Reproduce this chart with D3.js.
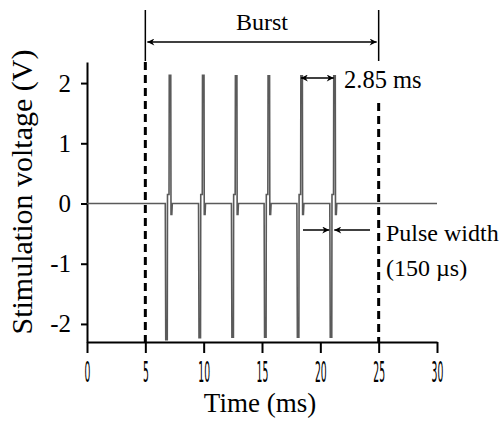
<!DOCTYPE html>
<html>
<head>
<meta charset="utf-8">
<script src="https://cdn.jsdelivr.net/npm/d3@7"></script>
<style>
  body { margin: 0; background: #fff; }
  svg { display: block; }
</style>
</head>
<body>
<svg id="chart"></svg>
<script>
// x axis ticks (ms) and y axis ticks (V)
const xTicks = [0, 5, 10, 15, 20, 25, 30];
const yTicks = [2, 1, 0, -1, -2];

// burst window (ms)
const burstStart = 5;
const burstEnd = 25;

// onset of each cathodic phase (ms)
const pulseOnsets = [6.75, 9.6, 12.42, 15.22, 18.03, 20.85];
// peak amplitudes of each pulse (V)
const negPeaks = [-2.26, -2.23, -2.22, -2.22, -2.22, -2.22];
const posPeaks = [2.13, 2.13, 2.12, 2.12, 2.12, 2.12];

// one biphasic pulse: time offset from onset (ms) and level
// 'neg' / 'pos' take the pulse peak, numbers are volts
const pulseShape = [
  [-0.04, 0], [0, 'neg'], [0.13, 'neg'], [0.15, 0.15], [0.28, 0.15],
  [0.3, 'pos'], [0.43, 'pos'], [0.45, -0.18], [0.52, -0.18], [0.56, 0]
];

const width = 504;
const height = 423;

const svg = d3.select('#chart')
  .attr('width', width)
  .attr('height', height);

const xScale = d3.scaleLinear()
  .domain([0, 30])
  .range([87, 437]);

const yScale = d3.scaleLinear()
  .domain([-2.3, 2.35])
  .range([342, 62]);

// build the recorded trace
let trace = [[0, 0]];
pulseOnsets.forEach((t0, i) => {
  pulseShape.forEach(p => {
    let v = p[1];
    if (v === 'neg') v = negPeaks[i];
    if (v === 'pos') v = posPeaks[i];
    trace.push([t0 + p[0], v]);
  });
});
trace.push([30, 0]);

const serif = 'Liberation Serif, Times New Roman, serif';

// arrow heads
const defs = svg.append('defs');
defs.append('marker')
  .attr('id', 'head')
  .attr('viewBox', '0 0 10 10')
  .attr('refX', 10)
  .attr('refY', 5)
  .attr('markerWidth', 8)
  .attr('markerHeight', 7)
  .attr('markerUnits', 'userSpaceOnUse')
  .attr('orient', 'auto-start-reverse')
  .append('path')
  .attr('d', 'M0,0 L10,5 L0,10 L3,5 Z')
  .attr('fill', '#000');

// axes
const xAxis = svg.append('g')
  .attr('transform', `translate(0,${yScale(-2.3)})`)
  .call(d3.axisBottom(xScale).tickValues(xTicks).tickSize(11).tickSizeOuter(0).tickPadding(8));

xAxis.select('.domain').attr('stroke-width', 2);
xAxis.selectAll('.tick line').attr('stroke-width', 2);
xAxis.selectAll('.tick text')
  .attr('font-family', 'DejaVu Sans, sans-serif')
  .attr('font-size', 29)
  .attr('fill', '#000')
  .attr('transform', 'scale(0.32,1)');

const yAxis = svg.append('g')
  .attr('transform', `translate(${xScale(0)},0)`)
  .call(d3.axisLeft(yScale).tickValues(yTicks).tickSize(6).tickSizeOuter(0).tickPadding(10)
    .tickFormat(d => d));

yAxis.select('.domain').attr('stroke-width', 2);
yAxis.selectAll('.tick line').attr('stroke-width', 2);
yAxis.selectAll('.tick text')
  .attr('font-family', serif)
  .attr('font-size', 25)
  .attr('fill', '#000');

// axis titles
svg.append('text')
  .attr('x', 260)
  .attr('y', 412)
  .attr('text-anchor', 'middle')
  .attr('font-family', serif)
  .attr('font-size', 27)
  .text('Time (ms)');

svg.append('text')
  .attr('transform', 'translate(32,192) rotate(-90)')
  .attr('text-anchor', 'middle')
  .attr('font-family', serif)
  .attr('font-size', 30)
  .text('Stimulation voltage (V)');

// burst limits: dashed inside the plot, solid above it
svg.append('line')
  .attr('x1', xScale(burstStart)).attr('x2', xScale(burstStart))
  .attr('y1', yScale(2.35)).attr('y2', yScale(-2.3))
  .attr('stroke', '#000').attr('stroke-width', 3)
  .attr('stroke-dasharray', '8,5');

svg.append('line')
  .attr('x1', xScale(burstEnd)).attr('x2', xScale(burstEnd))
  .attr('y1', 103).attr('y2', yScale(-2.3))
  .attr('stroke', '#000').attr('stroke-width', 3)
  .attr('stroke-dasharray', '8,5');

[burstStart, burstEnd].forEach(t => {
  svg.append('line')
    .attr('x1', xScale(t)).attr('x2', xScale(t))
    .attr('y1', 10).attr('y2', 61)
    .attr('stroke', '#000').attr('stroke-width', 1.5);
});

// the trace
const line = d3.line()
  .x(d => xScale(d[0]))
  .y(d => yScale(d[1]));

svg.append('path')
  .datum(trace)
  .attr('d', line)
  .attr('fill', 'none')
  .attr('stroke', '#5a5a5a')
  .attr('stroke-width', 1.6);

// Burst arrow
svg.append('line')
  .attr('x1', xScale(burstStart) + 2).attr('x2', xScale(burstEnd) - 2)
  .attr('y1', 42).attr('y2', 42)
  .attr('stroke', '#000').attr('stroke-width', 1.5)
  .attr('marker-start', 'url(#head)')
  .attr('marker-end', 'url(#head)');

svg.append('text')
  .attr('x', (xScale(burstStart) + xScale(burstEnd)) / 2)
  .attr('y', 30)
  .attr('text-anchor', 'middle')
  .attr('font-family', serif)
  .attr('font-size', 24)
  .text('Burst');

// inter-pulse interval arrow between the last two positive peaks
const p5 = xScale(pulseOnsets[4] + 0.3);
const p6 = xScale(pulseOnsets[5] + 0.3);
svg.append('line')
  .attr('x1', p5).attr('x2', p6)
  .attr('y1', 78).attr('y2', 78)
  .attr('stroke', '#000').attr('stroke-width', 1.5)
  .attr('marker-start', 'url(#head)')
  .attr('marker-end', 'url(#head)');

svg.append('text')
  .attr('x', 344)
  .attr('y', 88)
  .attr('font-family', serif)
  .attr('font-size', 24.5)
  .text('2.85 ms');

// pulse width arrows
const pw0 = xScale(pulseOnsets[5]);
svg.append('line')
  .attr('x1', 303).attr('x2', pw0 - 1)
  .attr('y1', 230).attr('y2', 230)
  .attr('stroke', '#000').attr('stroke-width', 1.5)
  .attr('marker-end', 'url(#head)');

svg.append('line')
  .attr('x1', 370).attr('x2', pw0 + 4)
  .attr('y1', 230).attr('y2', 230)
  .attr('stroke', '#000').attr('stroke-width', 1.5)
  .attr('marker-end', 'url(#head)');

svg.append('text')
  .attr('x', 386)
  .attr('y', 241)
  .attr('font-family', serif)
  .attr('font-size', 24)
  .text('Pulse width');

svg.append('text')
  .attr('x', 386)
  .attr('y', 276)
  .attr('font-family', serif)
  .attr('font-size', 24)
  .text('(150 µs)');
</script>
</body>
</html>
